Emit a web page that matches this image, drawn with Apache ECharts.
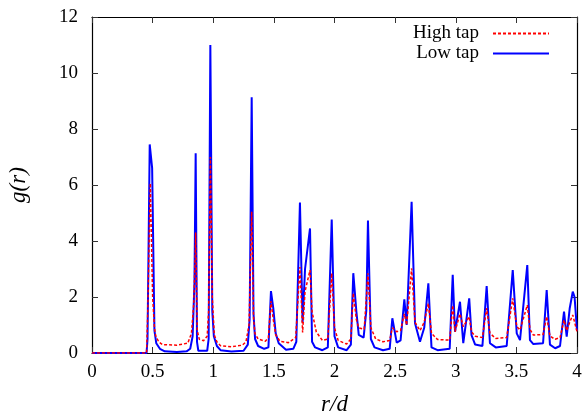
<!DOCTYPE html>
<html>
<head>
<meta charset="utf-8">
<script src="https://cdn.jsdelivr.net/npm/echarts@6/dist/echarts.min.js"></script>
<style>html,body{margin:0;padding:0;background:#fff}#c{width:585px;height:416px}</style>
</head>
<body>
<div id="c"></div>
<script>
var seriesNames = ['High tap', 'Low tap'];
var xTicks = {min: 0, max: 4, interval: 0.5};
var yTicks = {min: 0, max: 12, interval: 2};
var xTitle = 'r/d';
var yTitle = 'g(r)';

var highTap = [[0,0],[0.45,0],[0.46,1.5],[0.481,6.06],[0.5,2.0],[0.515,0.9],[0.525,0.62],[0.55,0.4],[0.58,0.3],[0.7,0.28],[0.79,0.35],[0.82,0.7],[0.84,1.8],[0.855,4.3],[0.868,0.8],[0.885,0.49],[0.92,0.44],[0.95,0.6],[0.962,1.5],[0.976,7.0],[0.992,2.0],[1.009,0.64],[1.03,0.4],[1.06,0.26],[1.15,0.22],[1.24,0.28],[1.27,0.4],[1.295,1.0],[1.317,5.05],[1.333,1.2],[1.344,0.7],[1.37,0.5],[1.43,0.42],[1.455,0.55],[1.476,1.85],[1.495,1.2],[1.515,0.65],[1.55,0.42],[1.62,0.37],[1.68,0.55],[1.715,3.07],[1.737,0.73],[1.757,2.2],[1.798,2.96],[1.815,1.47],[1.85,0.75],[1.9,0.45],[1.945,0.5],[1.977,2.85],[2.0,0.9],[2.03,0.45],[2.1,0.32],[2.135,0.5],[2.155,2.14],[2.18,1.2],[2.2,0.9],[2.245,0.85],[2.276,2.85],[2.3,0.9],[2.34,0.5],[2.4,0.4],[2.455,0.45],[2.477,0.9],[2.513,0.76],[2.545,0.8],[2.576,1.4],[2.595,1.0],[2.636,3.02],[2.664,1.1],[2.705,0.8],[2.74,1.1],[2.774,1.77],[2.8,0.7],[2.85,0.48],[2.95,0.46],[2.975,1.7],[2.994,0.76],[3.035,1.4],[3.062,0.94],[3.111,1.3],[3.13,0.75],[3.16,0.6],[3.22,0.55],[3.255,1.6],[3.282,0.7],[3.33,0.52],[3.42,0.55],[3.47,1.95],[3.503,0.95],[3.53,0.82],[3.59,1.71],[3.612,0.85],[3.64,0.64],[3.72,0.66],[3.75,1.3],[3.777,0.6],[3.82,0.49],[3.86,0.55],[3.893,1.18],[3.915,0.8],[3.94,1.1],[3.965,1.36],[4.0,0.76]];

var lowTap = [[0,0],[0.45,0],[0.458,0.5],[0.476,7.45],[0.496,6.6],[0.515,0.8],[0.53,0.35],[0.56,0.15],[0.6,0.06],[0.7,0.04],[0.78,0.06],[0.81,0.15],[0.83,0.6],[0.845,2.5],[0.855,7.13],[0.866,0.4],[0.877,0.08],[0.95,0.08],[0.962,0.5],[0.976,11.0],[0.992,1.5],[1.005,0.6],[1.03,0.25],[1.06,0.1],[1.15,0.05],[1.25,0.08],[1.285,0.3],[1.3,1.2],[1.317,9.13],[1.332,1.4],[1.345,0.5],[1.37,0.25],[1.42,0.15],[1.455,0.2],[1.476,2.21],[1.495,1.6],[1.515,0.7],[1.54,0.35],[1.6,0.12],[1.66,0.15],[1.685,0.4],[1.715,5.37],[1.737,1.1],[1.757,3.0],[1.798,4.45],[1.815,0.4],[1.84,0.2],[1.9,0.1],[1.945,0.2],[1.977,4.77],[2.0,0.6],[2.03,0.2],[2.1,0.1],[2.135,0.3],[2.155,2.85],[2.18,1.5],[2.2,0.65],[2.24,0.55],[2.262,1.5],[2.276,4.73],[2.3,0.5],[2.33,0.2],[2.4,0.1],[2.455,0.15],[2.477,1.24],[2.513,0.37],[2.545,0.45],[2.576,1.92],[2.595,1.0],[2.636,5.4],[2.664,1.06],[2.705,0.4],[2.74,0.9],[2.774,2.49],[2.8,0.2],[2.85,0.1],[2.95,0.15],[2.975,2.79],[2.994,0.76],[3.035,1.83],[3.062,0.35],[3.111,1.95],[3.13,0.64],[3.16,0.3],[3.22,0.25],[3.255,2.39],[3.282,0.35],[3.33,0.2],[3.42,0.25],[3.47,2.96],[3.503,0.7],[3.53,0.46],[3.59,3.14],[3.612,0.46],[3.64,0.32],[3.72,0.35],[3.75,2.25],[3.777,0.3],[3.82,0.17],[3.86,0.25],[3.893,1.48],[3.915,0.58],[3.94,1.6],[3.965,2.19],[3.98,2.0],[4.0,0.8]];

var font = 'Liberation Serif';
var chart = echarts.init(document.getElementById('c'), null, {renderer: 'canvas'});
function frameAxis(pos, isX, show) {
  return {
    type: 'value', position: pos,
    min: isX ? xTicks.min : yTicks.min, max: isX ? xTicks.max : yTicks.max,
    interval: isX ? xTicks.interval : yTicks.interval,
    axisLine: {show: true, onZero: false, lineStyle: {color: '#000', width: 1.2}},
    axisTick: {show: true, inside: true, length: 6, lineStyle: {color: '#333', width: 1}},
    splitLine: {show: false},
    axisLabel: {show: show, color: '#000', fontFamily: font, fontSize: 19, margin: isX ? 10 : 14}
  };
}
var xb = frameAxis('bottom', true, true);
xb.name = xTitle; xb.nameLocation = 'middle'; xb.nameGap = 40;
xb.nameTextStyle = {fontFamily: font, fontStyle: 'italic', fontSize: 23, color: '#000'};
var xt = frameAxis('top', true, false);
var yl = frameAxis('left', false, true);
yl.name = yTitle; yl.nameLocation = 'middle'; yl.nameGap = 62;
yl.nameTextStyle = {fontFamily: font, fontStyle: 'italic', fontSize: 23, color: '#000'};
var yr = frameAxis('right', false, false);

function legendFor(name, top) {
  return {data: [name], right: 35, top: top, align: 'right', padding: 0, itemWidth: 56, itemHeight: 10,
    itemStyle: {opacity: 0},
    textStyle: {fontFamily: font, fontSize: 19, color: '#000', padding: [0, 9, 0, 0]}};
}

chart.setOption({
  animation: false,
  grid: {left: 92, right: 8, top: 17, bottom: 63, outerBoundsMode: 'none', containLabel: false},
  xAxis: [xb, xt],
  yAxis: [yl, yr],
  legend: [legendFor(seriesNames[0], 24), legendFor(seriesNames[1], 44)],
  series: [
    {name: seriesNames[1], type: 'line', data: lowTap, symbol: 'none', xAxisIndex: 0, yAxisIndex: 0,
     lineStyle: {color: '#0000ff', width: 2}, itemStyle: {color: '#0000ff'}, z: 2},
    {name: seriesNames[0], type: 'line', data: highTap, symbol: 'none', xAxisIndex: 0, yAxisIndex: 0,
     lineStyle: {color: '#ff0000', width: 1.5, type: [3, 2]}, itemStyle: {color: '#ff0000'}, z: 3}
  ]
});
</script>
</body>
</html>
